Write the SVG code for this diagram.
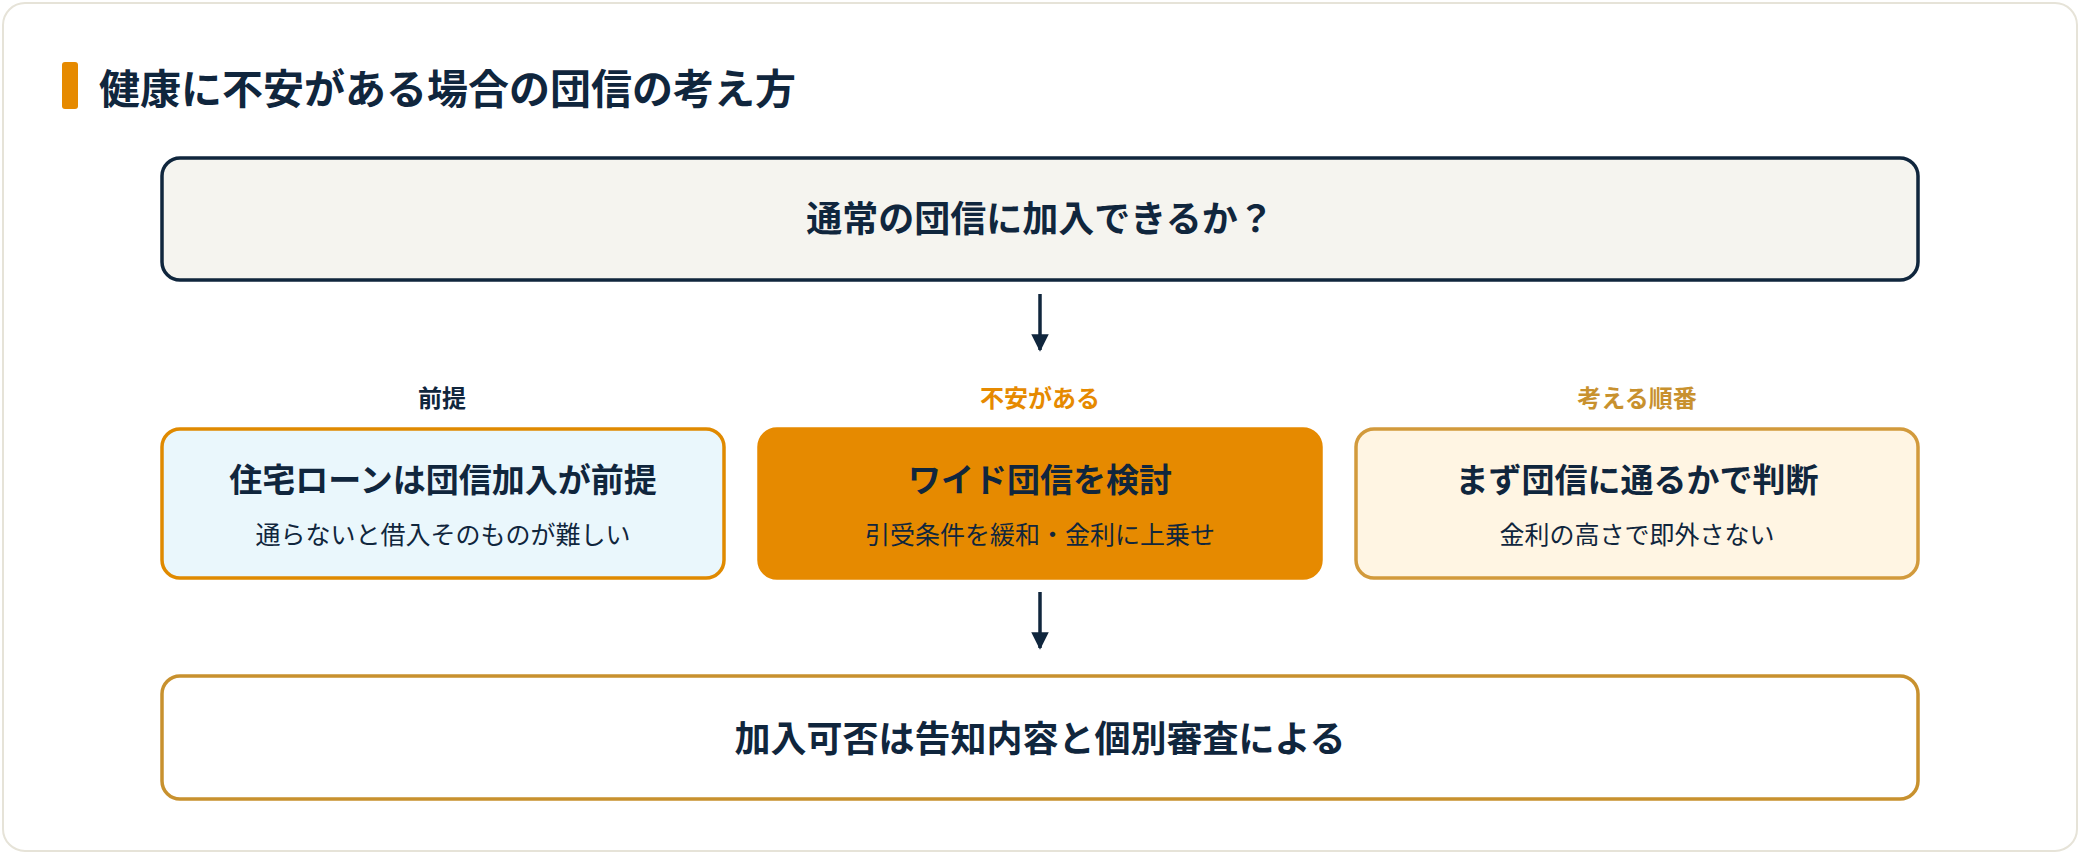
<svg xmlns="http://www.w3.org/2000/svg" width="2080" height="854" viewBox="0 0 2080 854">
<style>
text{font-family:"Noto Sans CJK JP","Noto Sans",sans-serif;text-anchor:middle;fill:#10263d}
.t{font-size:36px;font-weight:700}
.h{font-size:33px;font-weight:700}
.s{font-size:25px;font-weight:400}
.l{font-size:24px;font-weight:700}
</style>
<defs><marker id="a" viewBox="0 0 10 10" refX="9" refY="5" markerWidth="5" markerHeight="5" orient="auto"><path d="M0,0L10,5L0,10z" fill="#10263d"/></marker></defs>
<rect x="3" y="3" width="2074" height="848" rx="22" fill="#fff" stroke="#e6e3d8" stroke-width="2"/>
<rect x="62" y="62" width="16" height="47" rx="3" fill="#e68a00"/>
<text x="99" y="104" style="text-anchor:start;font-size:41px;font-weight:700">健康に不安がある場合の団信の考え方</text>
<g id="q"><rect x="162" y="158" width="1756" height="122" rx="18" fill="#f5f4ef" stroke="#10263d" stroke-width="3.5"/><text class="t" x="1040" y="232">通常の団信に加入できるか？</text></g>
<g id="connectors" stroke="#10263d" stroke-width="3.5" fill="none">
<line x1="1040" y1="294" x2="1040" y2="350" marker-end="url(#a)"/>
<line x1="1040" y1="592" x2="1040" y2="648" marker-end="url(#a)"/>
</g>
<text class="l" x="442" y="407">前提</text>
<text class="l" x="1040" y="407" style="fill:#e68a00">不安がある</text>
<text class="l" x="1637" y="407" style="fill:#c8912e">考える順番</text>
<g id="n1"><rect x="162" y="429" width="562" height="149" rx="18" fill="#eaf7fc" stroke="#e08a00" stroke-width="3.5"/><text class="h" x="443" y="492">住宅ローンは団信加入が前提</text><text class="s" x="443" y="544">通らないと借入そのものが難しい</text></g>
<g id="n2"><rect x="759" y="429" width="562" height="149" rx="18" fill="#e68a00" stroke="#e68a00" stroke-width="3.5"/><text class="h" x="1040" y="492">ワイド団信を検討</text><text class="s" x="1040" y="544">引受条件を緩和・金利に上乗せ</text></g>
<g id="n3"><rect x="1356" y="429" width="562" height="149" rx="18" fill="#fff5e3" stroke="#d29a3c" stroke-width="3.5"/><text class="h" x="1637" y="492">まず団信に通るかで判断</text><text class="s" x="1637" y="544">金利の高さで即外さない</text></g>
<g id="b"><rect x="162" y="676" width="1756" height="123" rx="18" fill="#fff" stroke="#c8912e" stroke-width="3.5"/><text class="t" x="1040" y="752">加入可否は告知内容と個別審査による</text></g>
</svg>
